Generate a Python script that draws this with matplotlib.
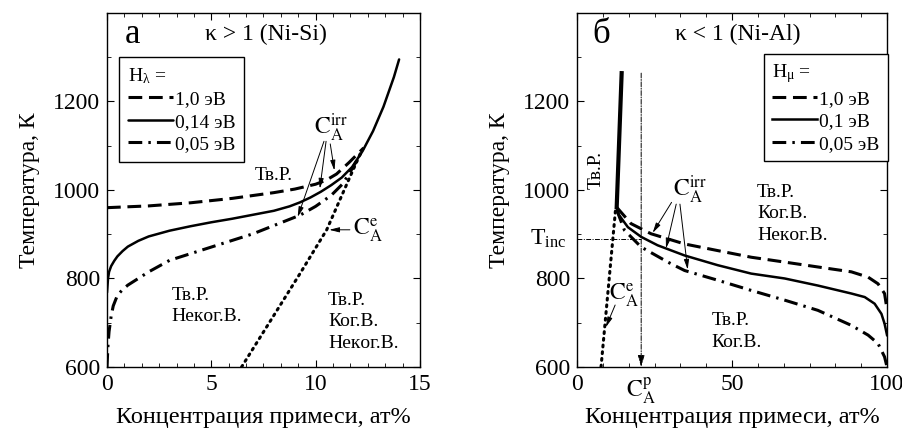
import numpy as np
import matplotlib.pyplot as plt
from matplotlib.ticker import MultipleLocator, AutoMinorLocator

plt.rcParams['font.family'] = ['Liberation Serif', 'DejaVu Serif']
plt.rcParams['mathtext.fontset'] = 'stix'

# --- (а) Ni-Si, kappa > 1 ---
x_a_dash = [0, 2, 4, 6, 8, 9, 10, 10.5, 11, 11.6, 12.3]
T_a_dash = [960, 964, 971, 981, 994, 1002, 1013, 1022, 1036, 1062, 1095]

x_a_solid = [0, 0.05, 0.1, 0.2, 0.35, 0.5, 0.75, 1, 1.5, 2, 3, 4, 5, 6, 7, 8, 8.75, 9.25,
             9.75, 10.25, 10.75, 11.25, 11.75, 12.25, 12.75, 13.25, 13.75, 14]
T_a_solid = [768, 800, 815, 828, 840, 850, 862, 872, 885, 895, 908, 918, 927, 935, 944, 953, 963, 972,
             983, 996, 1011, 1028, 1052, 1088, 1133, 1188, 1255, 1295]

x_a_dd = [0, 0.05, 0.1, 0.2, 0.3, 0.5, 0.75, 1, 1.5, 2, 3, 5, 7, 9.25, 10, 10.75, 11.3, 11.8, 12.3]
T_a_dd = [600, 650, 680, 715, 738, 762, 775, 785, 800, 815, 841, 871, 901, 943, 963, 988, 1014, 1052, 1095]

x_a_eq = [6.45, 9.25, 10.53, 11.64, 12.2]
T_a_eq = [600, 811, 910, 1029, 1088]

# --- (б) Ni-Al, kappa < 1 ---
x_b_solid = [14.4, 12.8, 13.5, 16.4, 20.7, 26, 34.7, 45.4, 56.2, 67, 77.7, 88.5, 92.8, 96, 98.2, 99.2, 100]
T_b_solid = [1264, 961, 944, 916, 894, 875, 852, 830, 811, 800, 784, 766, 758, 743, 720, 698, 672]

x_b_dash = [12.8, 17.4, 23.9, 34.7, 45.4, 56.2, 67, 77.7, 88.5, 93.9, 97.1, 99.2, 100]
T_b_dash = [961, 924, 901, 878, 863, 848, 837, 826, 815, 803, 788, 766, 730]

x_b_dd = [12.8, 15.3, 20.7, 29.3, 34.7, 45.4, 56.2, 67, 77.7, 88.5, 93.9, 97.1, 99.2, 100]
T_b_dd = [955, 909, 871, 837, 818, 796, 773, 751, 728, 694, 672, 653, 623, 600]

x_b_eq = [7.75, 12.5]
T_b_eq = [600, 961]

T_inc = 890
C_p = 20.7

dash = (0, (4.5, 2.2))
dashdot = (0, (4.5, 2.0, 0.8, 2.0))
dots = (0, (0.6, 1.6))
arr = dict(arrowstyle='-|>,head_length=0.6,head_width=0.15', color='k', lw=0.7, shrinkA=0, shrinkB=0)

fig = plt.figure(figsize=(9.02, 4.32), dpi=100)
ax1 = fig.add_axes([0.1186, 0.1505, 0.347, 0.8195])
ax2 = fig.add_axes([0.6397, 0.1505, 0.3437, 0.8195])

for ax in (ax1, ax2):
    ax.set_ylim(600, 1400)
    ax.set_yticks([600, 800, 1000, 1200])
    ax.yaxis.set_minor_locator(MultipleLocator(100))
    ax.xaxis.set_minor_locator(AutoMinorLocator(6))
    ax.tick_params(which='both', direction='in', top=True, right=True, labelsize=17, pad=5)
    ax.tick_params(which='major', length=5)
    ax.tick_params(which='minor', length=3)
    for s in ax.spines.values():
        s.set_linewidth(1.0)
    ax.set_ylabel('Температура, К', fontsize=17, labelpad=9)
    ax.set_xlabel('Концентрация примеси, ат%', fontsize=17.5, labelpad=9)

# panel а
ax1.set_xlim(0, 15)
ax1.xaxis.set_major_locator(MultipleLocator(5))
ax1.plot(x_a_dash, T_a_dash, color='k', lw=2.2, linestyle=dash, label='1,0 эВ')
ax1.plot(x_a_solid, T_a_solid, color='k', lw=1.8, label='0,14 эВ', solid_capstyle='round')
ax1.plot(x_a_dd, T_a_dd, color='k', lw=2.2, linestyle=dashdot, label='0,05 эВ')
ax1.plot(x_a_eq, T_a_eq, color='k', lw=2.2, linestyle=dots, dash_capstyle='round')

leg1 = ax1.legend(title=r'H$\mathregular{_λ}$ =', loc='upper left', bbox_to_anchor=(0.04, 0.875),
                  fontsize=14, title_fontsize=14, frameon=True, fancybox=False,
                  edgecolor='k', framealpha=1, handlelength=2.3, handletextpad=0.1,
                  borderpad=0.45, labelspacing=0.25, borderaxespad=0, alignment='left')
leg1.get_frame().set_linewidth(1.0)

ax1.text(0.85, 1352, 'а', fontsize=25, va='center')
ax1.text(7.6, 1352, 'κ > 1 (Ni-Si)', fontsize=17, ha='center', va='center')
ax1.text(7.1, 1033, 'Тв.Р.', fontsize=14, va='center')
ax1.text(3.1, 738, 'Тв.Р.\nНекoг.В.', fontsize=14, va='center', linespacing=1.35)
ax1.text(10.6, 702, 'Тв.Р.\nКог.В.\nНекoг.В.', fontsize=14, va='center', linespacing=1.35)

ax1.text(10.75, 1140, r'$\mathrm{C_A^{irr}}$', fontsize=17, ha='center', va='center')
ax1.annotate('', xy=(9.14, 939), xytext=(10.4, 1110), arrowprops=arr)
ax1.annotate('', xy=(10.2, 1003), xytext=(10.5, 1110), arrowprops=arr)
ax1.annotate('', xy=(10.9, 1044), xytext=(10.7, 1104), arrowprops=arr)
ax1.text(11.8, 909, r'$\mathrm{C_A^{e}}$', fontsize=17, ha='left', va='center')
ax1.annotate('', xy=(10.65, 910), xytext=(11.64, 910), arrowprops=arr)

# panel б
ax2.set_xlim(0, 100)
ax2.xaxis.set_major_locator(MultipleLocator(50))
ax2.plot(x_b_dash, T_b_dash, color='k', lw=2.2, linestyle=dash, label='1,0 эВ')
ax2.plot(x_b_solid, T_b_solid, color='k', lw=1.8, label='0,1 эВ')
ax2.plot(x_b_dd, T_b_dd, color='k', lw=2.2, linestyle=dashdot, label='0,05 эВ')
ax2.plot(x_b_solid[:2], T_b_solid[:2], color='k', lw=3.0)
ax2.plot(x_b_eq, T_b_eq, color='k', lw=2.2, linestyle=dots, dash_capstyle='round')

# T_inc and C_A^p guide lines
ax2.plot([0, C_p], [T_inc, T_inc], color='k', lw=0.7, linestyle=(0, (5, 1.5, 1, 1.5)))
ax2.annotate('', xy=(C_p, 600), xytext=(C_p, 1264),
             arrowprops=dict(arrowstyle='-|>,head_length=0.7,head_width=0.2', color='k', lw=0.7,
                             linestyle=(0, (5, 1.5, 1, 1.5)), shrinkA=0, shrinkB=0))
ax2.text(-3.5, T_inc, r'T$\mathregular{_{inc}}$', fontsize=17, ha='right', va='center', clip_on=False)
ax2.text(C_p, 580, r'$\mathrm{C_A^{p}}$', fontsize=17, ha='center', va='top', clip_on=False)

leg2 = ax2.legend(title=r'H$\mathregular{_μ}$ =', loc='upper left', bbox_to_anchor=(0.602, 0.885),
                  fontsize=14, title_fontsize=14, frameon=True, fancybox=False,
                  edgecolor='k', framealpha=1, handlelength=2.3, handletextpad=0.1,
                  borderpad=0.45, labelspacing=0.25, borderaxespad=0, alignment='left')
leg2.get_frame().set_linewidth(1.0)

ax2.text(5.0, 1352, 'б', fontsize=25, va='center')
ax2.text(52, 1352, 'κ < 1 (Ni-Al)', fontsize=17, ha='center', va='center')
ax2.text(6.1, 1045, 'Тв.Р.', fontsize=14, ha='center', va='center', rotation=90)
ax2.text(58.1, 946, 'Тв.Р.\nКог.В.\nНекoг.В.', fontsize=14, va='center', linespacing=1.35)
ax2.text(43.3, 680, 'Тв.Р.\nКог.В.', fontsize=14, va='center', linespacing=1.35)

ax2.text(36.5, 1000, r'$\mathrm{C_A^{irr}}$', fontsize=17, ha='center', va='center')
ax2.annotate('', xy=(24.4, 903), xytext=(30.5, 972), arrowprops=arr)
ax2.annotate('', xy=(28.7, 868), xytext=(32.0, 968), arrowprops=arr)
ax2.annotate('', xy=(35.7, 820), xytext=(33.2, 968), arrowprops=arr)
ax2.text(15.0, 762, r'$\mathrm{C_A^{e}}$', fontsize=17, ha='center', va='center')
ax2.annotate('', xy=(9.3, 690), xytext=(12.3, 740), arrowprops=arr)

fig.savefig('out.png', dpi=100)
